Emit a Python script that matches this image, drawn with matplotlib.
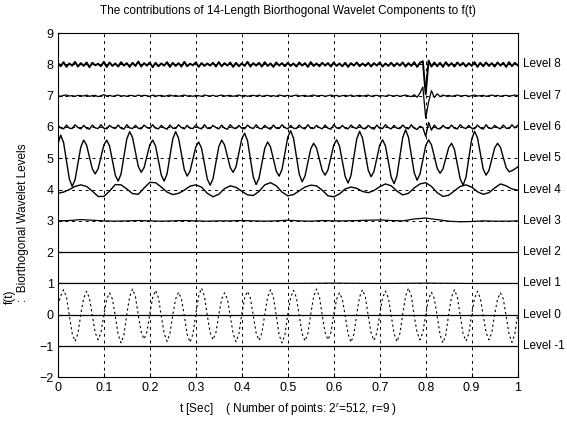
import numpy as np
import matplotlib.pyplot as plt

plt.rcParams['font.family'] = ['Liberation Sans', 'DejaVu Sans']
plt.rcParams['mathtext.fontset'] = 'custom'
plt.rcParams['mathtext.rm'] = 'Liberation Sans'
plt.rcParams['mathtext.it'] = 'Liberation Sans:italic'

#----Donnees (512 points ramenes a 161 echantillons)

t = np.linspace(0, 1, 161)
t41 = np.linspace(0, 1, 41)
t81 = np.linspace(0, 1, 81)
t11 = np.linspace(0, 1, 11)

level8 = [8.05, 7.94, 8.07, 7.92, 8.03, 7.96, 8.08, 7.93, 8.04, 7.95,
          8.06, 7.91, 8.05, 7.97, 8.02, 7.94, 8.08, 7.92, 8.06, 7.95,
          8.03, 7.93, 8.07, 7.96, 8.04, 7.92, 8.05, 7.95, 8.09, 7.93,
          8.04, 7.96, 8.06, 7.91, 8.05, 7.94, 8.03, 7.96, 8.07, 7.92,
          8.05, 7.95, 8.04, 7.93, 8.08, 7.94, 8.02, 7.97, 8.06, 7.92,
          8.04, 7.95, 8.03, 7.96, 8.05, 7.93, 8.07, 7.94, 8.04, 7.96,
          8.06, 7.92, 8.05, 7.94, 8.03, 7.95, 8.08, 7.93, 8.04, 7.96,
          8.05, 7.93, 8.07, 7.95, 8.03, 7.92, 8.06, 7.96, 8.04, 7.94,
          8.05, 7.95, 8.03, 7.93, 8.06, 7.96, 8.04, 7.92, 8.07, 7.95,
          8.03, 7.94, 8.05, 7.96, 8.04, 7.93, 8.06, 7.95, 8.03, 7.94,
          8.05, 7.92, 8.04, 7.96, 8.06, 7.94, 8.03, 7.95, 8.05, 7.93,
          8.04, 7.96, 8.06, 7.93, 8.03, 7.95, 8.05, 7.94, 8.04, 7.96,
          8.06, 7.93, 8.04, 7.95, 8.07, 7.92, 8.05, 8.10, 7.05, 8.12,
          7.93, 8.06, 7.94, 8.05, 7.92, 8.07, 7.95, 8.04, 7.93, 8.06,
          7.96, 8.05, 7.93, 8.04, 7.95, 8.07, 7.92, 8.05, 7.94, 8.06,
          7.95, 8.04, 7.93, 8.06, 7.96, 8.05, 7.92, 8.07, 7.94, 8.05,
          7.97]

level7 = [7.00, 6.98, 7.01, 7.02, 6.99, 7.00, 6.98, 7.01, 7.00, 6.99,
          7.02, 6.98, 7.00, 7.01, 6.97, 7.00, 7.03, 6.99, 7.01, 6.98,
          7.00, 7.02, 6.99, 7.00, 6.98, 7.01, 7.00, 6.98, 7.02, 6.99,
          7.01, 7.00, 6.98, 7.02, 6.99, 7.00, 7.01, 6.98, 7.00, 7.02,
          6.99, 7.01, 6.98, 7.00, 7.02, 6.99, 7.00, 6.98, 7.01, 7.00,
          6.98, 7.02, 7.00, 6.99, 7.01, 6.98, 7.00, 7.02, 6.99, 7.00,
          7.01, 6.98, 7.00, 7.02, 6.99, 7.01, 6.98, 7.00, 7.01, 6.99,
          7.02, 6.98, 7.00, 7.01, 6.99, 7.00, 6.98, 7.02, 7.00, 6.99,
          7.01, 6.98, 7.00, 7.02, 6.99, 7.00, 7.01, 6.98, 7.00, 7.02,
          6.99, 7.00, 7.01, 6.98, 7.00, 7.02, 6.99, 7.01, 6.98, 7.00,
          7.01, 6.99, 7.02, 6.98, 7.00, 7.01, 6.99, 7.00, 7.02, 6.98,
          7.00, 7.01, 6.99, 7.00, 6.98, 7.02, 7.00, 6.99, 7.01, 6.98,
          7.00, 7.02, 6.99, 6.97, 7.03, 6.95, 7.08, 7.28, 6.28, 6.80,
          7.16, 6.94, 7.06, 6.97, 7.02, 6.99, 7.01, 6.98, 7.00, 7.02,
          6.99, 7.00, 7.01, 6.98, 7.00, 7.02, 6.99, 7.00, 7.01, 6.98,
          7.00, 7.02, 6.99, 7.01, 6.98, 7.00, 7.01, 6.99, 7.00, 7.02,
          7.00]

level6 = [6.05, 5.97, 5.94, 6.06, 5.96, 5.95, 6.07, 5.98, 5.94, 6.05,
          5.96, 5.93, 6.06, 5.97, 5.95, 6.07, 5.96, 5.94, 6.05, 5.98,
          5.95, 6.06, 5.96, 5.93, 6.07, 5.97, 5.95, 6.05, 5.96, 5.94,
          6.06, 5.98, 5.95, 6.07, 5.96, 5.94, 6.05, 5.97, 5.93, 6.06,
          5.96, 5.95, 6.07, 5.98, 5.94, 6.05, 5.96, 5.95, 6.06, 5.97,
          5.94, 6.07, 5.96, 5.95, 6.05, 5.98, 5.94, 6.06, 5.96, 5.93,
          6.07, 5.97, 5.95, 6.05, 5.96, 5.94, 6.06, 5.98, 5.95, 6.07,
          5.96, 5.94, 6.05, 5.97, 5.93, 6.06, 5.96, 5.95, 6.07, 5.98,
          5.94, 6.05, 5.96, 5.95, 6.06, 5.97, 5.94, 6.07, 5.96, 5.95,
          6.05, 5.98, 5.94, 6.06, 5.96, 5.93, 6.07, 5.97, 5.95, 6.05,
          5.96, 5.94, 6.06, 5.98, 5.95, 6.07, 5.96, 5.94, 6.05, 5.97,
          5.93, 6.06, 5.96, 5.95, 6.07, 5.98, 5.94, 6.05, 5.96, 5.95,
          6.06, 5.97, 5.94, 6.07, 5.96, 5.92, 6.02, 5.98, 5.70, 6.14,
          5.90, 6.06, 5.95, 5.94, 6.05, 5.97, 5.95, 6.06, 5.96, 5.94,
          6.07, 5.98, 5.95, 6.05, 5.96, 5.94, 6.06, 5.97, 5.93, 6.07,
          5.96, 5.95, 6.05, 5.98, 5.94, 6.06, 5.96, 5.95, 6.07, 5.97,
          6.05]

level5 = [5.45, 5.74, 5.50, 4.92, 4.34, 4.10, 4.32, 4.84, 5.36, 5.58,
          5.42, 5.04, 4.66, 4.50, 4.66, 5.04, 5.42, 5.58, 5.39, 4.93,
          4.46, 4.27, 4.50, 5.06, 5.62, 5.85, 5.66, 5.20, 4.74, 4.55,
          4.70, 5.07, 5.43, 5.58, 5.39, 4.93, 4.46, 4.27, 4.50, 5.06,
          5.62, 5.85, 5.64, 5.14, 4.64, 4.43, 4.59, 4.98, 5.36, 5.52,
          5.32, 4.83, 4.34, 4.14, 4.35, 4.86, 5.37, 5.58, 5.43, 5.07,
          4.70, 4.55, 4.73, 5.18, 5.62, 5.80, 5.56, 4.98, 4.40, 4.16,
          4.36, 4.84, 5.32, 5.52, 5.36, 4.98, 4.59, 4.43, 4.64, 5.16,
          5.67, 5.88, 5.64, 5.07, 4.49, 4.25, 4.43, 4.87, 5.30, 5.48,
          5.33, 4.97, 4.61, 4.46, 4.63, 5.03, 5.42, 5.59, 5.39, 4.90,
          4.41, 4.21, 4.45, 5.04, 5.62, 5.86, 5.65, 5.14, 4.62, 4.41,
          4.58, 5.00, 5.42, 5.59, 5.39, 4.89, 4.39, 4.19, 4.44, 5.05,
          5.66, 5.91, 5.67, 5.11, 4.54, 4.30, 4.49, 4.95, 5.40, 5.59,
          5.43, 5.06, 4.68, 4.52, 4.66, 5.00, 5.34, 5.48, 5.28, 4.81,
          4.34, 4.14, 4.39, 5.00, 5.61, 5.86, 5.66, 5.16, 4.66, 4.46,
          4.61, 4.97, 5.33, 5.48, 5.35, 5.03, 4.70, 4.57, 4.60, 4.66,
          4.72]

level4 = [3.88, 3.92, 4.00, 4.10, 4.15, 4.10, 3.95, 3.78, 3.78, 3.95,
          4.16, 4.15, 4.02, 3.87, 3.85, 4.05, 4.23, 4.22, 4.08, 3.92,
          3.84, 3.88, 3.98, 4.11, 4.15, 4.08, 3.88, 3.77, 3.85, 4.03,
          4.12, 4.07, 3.95, 3.83, 3.81, 3.94, 4.15, 4.22, 4.12, 3.92,
          3.80, 3.84, 3.96, 4.08, 4.14, 4.12, 3.98, 3.80, 3.77, 3.86,
          4.02, 4.08, 4.04, 3.94, 3.90, 3.97, 4.09, 4.18, 4.12, 3.95,
          3.83, 3.88, 4.05, 4.18, 4.22, 4.10, 3.90, 3.78, 3.82, 3.96,
          4.10, 4.15, 4.08, 3.93, 3.85, 3.90, 4.05, 4.18, 4.12, 4.02,
          3.98]

level3 = [3.00, 3.01, 3.04, 3.02, 3.00, 2.99, 3.00, 3.01, 3.00, 2.99,
          3.00, 3.01, 3.00, 2.99, 3.00, 3.00, 3.01, 3.00, 2.99, 3.00,
          3.02, 3.00, 2.99, 3.01, 3.00, 3.00, 3.01, 3.02, 3.03, 3.01,
          3.00, 3.06, 3.09, 3.04, 2.99, 2.97, 2.98, 3.00, 2.99, 2.99,
          3.00]

level2 = [2, 2, 2, 2, 2, 2, 2, 2, 2, 2, 2]
level1 = [1, 1, 1, 1, 1, 1, 1.01, 1, 1.01, 1, 1]
level0 = [0, 0, 0, 0, 0, 0, 0, 0, 0, 0, 0]
levelm1 = [-1, -1, -1, -1, -1, -1, -1, -1, -1, -1, -1]

# signal f(t), trace en tirets
ft = [0.30, 0.60, 0.80, 0.57, -0.02, -0.60, -0.85, -0.60, 0.02, 0.53,
      0.75, 0.53, -0.03, -0.57, -0.80, -0.57, 0.00, 0.50, 0.70, 0.50,
      -0.05, -0.64, -0.90, -0.64, 0.02, 0.58, 0.82, 0.58, -0.02, -0.55,
      -0.78, -0.55, 0.03, 0.55, 0.78, 0.55, -0.04, -0.60, -0.85, -0.60,
      0.00, 0.51, 0.72, 0.51, -0.03, -0.62, -0.88, -0.62, 0.02, 0.60,
      0.85, 0.60, -0.02, -0.57, -0.80, -0.57, 0.01, 0.50, 0.70, 0.50,
      -0.04, -0.61, -0.86, -0.61, 0.02, 0.53, 0.75, 0.53, -0.03, -0.58,
      -0.82, -0.58, 0.01, 0.57, 0.80, 0.57, -0.02, -0.64, -0.90, -0.64,
      0.00, 0.55, 0.78, 0.55, -0.03, -0.60, -0.84, -0.60, 0.02, 0.58,
      0.82, 0.58, -0.02, -0.57, -0.80, -0.57, 0.01, 0.50, 0.70, 0.50,
      -0.04, -0.62, -0.88, -0.62, 0.02, 0.57, 0.80, 0.57, -0.03, -0.58,
      -0.82, -0.58, 0.01, 0.54, 0.76, 0.54, -0.02, -0.61, -0.86, -0.61,
      0.02, 0.60, 0.85, 0.60, -0.03, -0.57, -0.80, -0.57, 0.01, 0.51,
      0.72, 0.51, -0.04, -0.64, -0.90, -0.64, 0.02, 0.57, 0.80, 0.57,
      -0.02, -0.60, -0.84, -0.60, 0.01, 0.53, 0.75, 0.53, -0.03, -0.57,
      -0.80, -0.57, 0.02, 0.50, 0.70, 0.50, -0.04, -0.62, -0.88, -0.62,
      0.00]

xticks = [0, 0.1, 0.2, 0.3, 0.4, 0.5, 0.6, 0.7, 0.8, 0.9, 1]
xlabels = ["0", "0.1", "0.2", "0.3", "0.4", "0.5", "0.6", "0.7", "0.8", "0.9", "1"]
yticks = [-2, -1, 0, 1, 2, 3, 4, 5, 6, 7, 8, 9]
niveaux = [8, 7, 6, 5, 4, 3, 2, 1, 0, -1]

#----Figure

fig = plt.figure(figsize=(5.67, 4.24), dpi=100)
ax = fig.add_axes([0.102, 0.11, 0.811, 0.812])

ax.plot(t, level8, "k", lw=1.4)
ax.plot(t, level7, "k", lw=0.9)
ax.plot(t, level6, "k", lw=1.0)
ax.plot(t, level5, "k", lw=1.0)
ax.plot(t81, level4, "k", lw=1.0)
ax.plot(t41, level3, "k", lw=0.9)
ax.plot(t11, level2, "k", lw=0.9)
ax.plot(t11, level1, "k", lw=0.9)
ax.plot(t11, level0, "k", lw=0.9)
ax.plot(t11, levelm1, "k", lw=0.9)
ax.plot(t, ft, "k", lw=0.8, dashes=(2, 2.5))

#----Axes

ax.set_xlim(0, 1)
ax.set_ylim(-2, 9)
ax.set_xticks(xticks)
ax.set_xticklabels(xlabels)
ax.set_yticks(yticks)
ax.tick_params(direction="in", length=3, labelsize=9, pad=3)
ax.grid(True, color="k", linestyle=(0, (3, 4)), linewidth=0.7)
ax.set_axisbelow(True)
for s in ax.spines.values():
    s.set_linewidth(0.8)

for n in niveaux:
    ax.text(1.012, n, "Level %d" % n, fontsize=8.5, va="center", ha="left",
            transform=ax.get_yaxis_transform())

ax.set_title("The contributions of 14-Length Biorthogonal Wavelet Components to f(t)",
             fontsize=8.5, pad=14)
ax.set_xlabel(r"t [Sec]    ( Number of points: 2$^r$=512, r=9 )", fontsize=8.5,
              labelpad=5)

fig.text(0.006, 1 - 297 / 424, "f(t)", rotation=90, fontsize=8.5,
         va="center", ha="left")
fig.text(0.030, 1 - 302 / 424, ":  Biorthogonal Wavelet Levels", rotation=90,
         fontsize=8.5, va="bottom", ha="left")

fig.savefig("out.png", dpi=100)
